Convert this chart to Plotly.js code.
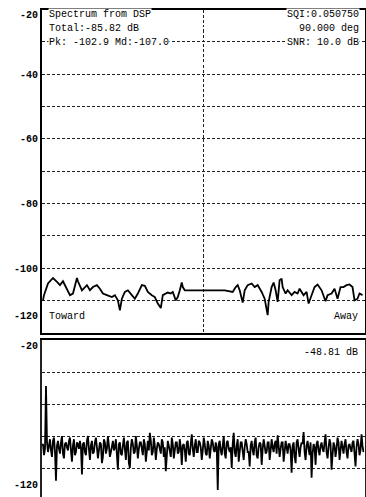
<!DOCTYPE html>
<html>
<head>
<meta charset="utf-8">
<script src="https://cdn.plot.ly/plotly-3.0.1.min.js"></script>
<style>html,body{margin:0;padding:0;background:#fff;}#chart{width:366px;height:497px;}</style>
</head>
<body>
<div id="chart"></div>
<script>
// ---- Top panel: smoothed spectrum (frequency bin, dB) ----
const topBins = [1,2,6,11,15,18,21,24,28,31,35,36,40,45,48,51,55,58,61,65,70,73,76,78,80,83,86,90,93,96,100,103,106,110,113,116,119,121,126,129,131,134,136,138,140,141,143,183,188,191,194,196,198,201,203,206,210,213,216,220,223,226,227,230,232,234,236,238,240,241,244,246,250,253,256,258,262,265,267,270,273,276,280,284,286,290,293,296,299,302,305,308,311,313,316,318,321];
const topValues = [-109.9,-108.3,-104.7,-103.0,-104.2,-105.2,-104.0,-105.8,-108.3,-107.8,-103.0,-104.0,-106.8,-105.2,-106.8,-105.8,-105.2,-106.3,-107.8,-108.3,-108.9,-108.3,-109.9,-113.0,-109.4,-107.3,-106.8,-108.3,-109.4,-107.8,-105.2,-105.4,-107.3,-108.3,-108.9,-110.9,-112.3,-108.3,-107.5,-107.8,-107.3,-109.9,-108.9,-106.8,-104.4,-105.8,-106.8,-106.8,-107.1,-107.3,-105.8,-105.2,-106.8,-110.6,-106.8,-105.2,-104.7,-105.8,-105.2,-107.3,-109.4,-114.5,-110.4,-105.8,-104.4,-106.8,-110.4,-103.7,-103.2,-105.8,-107.8,-106.8,-108.3,-107.3,-107.8,-106.3,-108.3,-107.3,-110.9,-108.3,-105.8,-105.0,-106.8,-110.2,-108.3,-107.8,-106.3,-109.4,-105.8,-105.8,-105.2,-105.0,-105.8,-109.9,-109.4,-107.8,-108.3];

// ---- Bottom panel: raw spectrum, dB (even bins and odd bins) ----
const bottomEven = [-86,-92,-48.8,-90,-82,-93,-81,-108,-83,-91,-80,-94,-84,-89,-81,-96,-82,-90,-85,-83,-104,-84,-92,-80,-95,-83,-90,-81,-94,-84,-97,-82,-91,-80,-93,-85,-89,-82,-101,-84,-92,-81,-95,-83,-100,-82,-91,-80,-94,-84,-90,-82,-96,-83,-78,-92,-81,-95,-84,-89,-82,-93,-102,-83,-90,-81,-94,-84,-91,-82,-98,-85,-96,-83,-92,-79,-93,-82,-90,-84,-95,-81,-91,-83,-94,-82,-89,-84,-113.7,-83,-92,-80,-94,-83,-90,-100,-78,-93,-82,-91,-84,-95,-82,-90,-99,-83,-92,-81,-94,-84,-98,-82,-91,-84,-95,-82,-90,-83,-79.5,-93,-84,-96,-83,-91,-85,-103,-84,-97,-82,-93,-84,-77.5,-95,-83,-92,-106,-85,-98,-83,-92,-84,-90,-79,-94,-82,-101,-84,-93,-81,-95,-83,-91,-82,-94,-85,-90,-83,-99,-82,-92,-79,-90];
const bottomOdd = [-85,-88,-84,-87,-89,-83,-90,-86,-88,-84,
  -91,-85,-87,-83,-89,-86,-92,-84,-88,-87,
  -85,-90,-83,-88,-86,-91,-84,-87,-89,-85,
  -93,-84,-88,-86,-90,-83,-87,-89,-85,-91,
  -86,-88,-84,-97,-87,-85,-90,-86,-88,-84,
  -92,-85,-87,-89,-83,-90,-86,-88,-85,-91,
  -84,-87,-89,-86,-93,-85,-88,-84,-90,-87,
  -86,-89,-84,-91,-85,-88,-86,-90,-83,-87,
  -89,-85,-92,-86,-88,-84,-90,-87,-85,-89,
  -86,-91,-84,-88,-87,-85,-90,-86,-96,-84,
  -88,-87,-85,-90,-86,-89,-84,-92,-87,-85,
  -88,-86,-90,-84,-89,-87,-85,-91,-86,-88,
  -84,-90,-87,-85,-89,-86,-93,-84,-88,-87,
  -85,-90,-86,-88,-84,-91,-87,-85,-89,-86,
  -88,-84,-90,-87,-85,-92,-86,-88,-84,-89,
  -87,-85,-90,-86,-88,-84,-91,-87,-85,-89,
  -86];
const bottomBins = [], bottomValues = [];
bottomEven.forEach((v, i) => {
  bottomBins.push(2 * i); bottomValues.push(v);
  if (i < bottomOdd.length) { bottomBins.push(2 * i + 1); bottomValues.push(bottomOdd[i]); }
});

// ---- Axis ticks / labels ----
const topGridVals = [-110,-100,-90,-80,-70,-60,-50,-40,-30];
const topTickText = ['','-100','','-80','','-60','','-40',''];
const bottomGridVals = [-100,-80,-60,-40];
const centerBin = [161.5];

const topLeftText = ['Spectrum from DSP','Total:-85.82 dB','Pk: -102.9 Md:-107.0'];
const topRightText = ['SQI:0.050750','90.000 deg','SNR: 10.0 dB'];
const bottomPeakText = '-48.81 dB';

const W = 366, H = 497;
const px = v => v / W;
const py = v => 1 - v / H;
const mono = {family: 'Liberation Mono, DejaVu Sans Mono, monospace', size: 10, color: '#000'};
const monoBold = Object.assign({}, mono, {weight: 'bold'});

const traces = [
  {x: topBins, y: topValues, xaxis: 'x', yaxis: 'y', mode: 'lines', line: {color: '#000', width: 1.8}, hoverinfo: 'skip'},
  {x: bottomBins, y: bottomValues, xaxis: 'x2', yaxis: 'y2', mode: 'lines', line: {color: '#000', width: 1.8}, hoverinfo: 'skip'}
];

const annotations = [];
topLeftText.forEach((t, i) => annotations.push({text: t, xref: 'paper', yref: 'paper', x: px(48), y: py([15, 28.5, 42][i]), xanchor: 'left', yanchor: 'middle', showarrow: false, font: mono, bgcolor: '#fff', borderpad: 0}));
topRightText.forEach((t, i) => annotations.push({text: t, xref: 'paper', yref: 'paper', x: px(360), y: py([15, 28.5, 42][i]), xanchor: 'right', yanchor: 'middle', showarrow: false, font: mono, bgcolor: '#fff', borderpad: 0}));
annotations.push({text: 'Toward', xref: 'paper', yref: 'paper', x: px(48), y: py(316), xanchor: 'left', yanchor: 'middle', showarrow: false, font: mono, bgcolor: '#fff', borderpad: 0});
annotations.push({text: 'Away', xref: 'paper', yref: 'paper', x: px(359), y: py(316), xanchor: 'right', yanchor: 'middle', showarrow: false, font: mono, bgcolor: '#fff', borderpad: 0});
annotations.push({text: bottomPeakText, xref: 'paper', yref: 'paper', x: px(359), y: py(352), xanchor: 'right', yanchor: 'middle', showarrow: false, font: mono, bgcolor: '#fff', borderpad: 0});
// end tick labels (drawn inside the axis span like the original)
annotations.push({text: '-20', xref: 'paper', yref: 'paper', x: px(40), y: py(16), xanchor: 'right', yanchor: 'middle', showarrow: false, font: monoBold});
annotations.push({text: '-120', xref: 'paper', yref: 'paper', x: px(40), y: py(316), xanchor: 'right', yanchor: 'middle', showarrow: false, font: monoBold});
annotations.push({text: '-20', xref: 'paper', yref: 'paper', x: px(40), y: py(346), xanchor: 'right', yanchor: 'middle', showarrow: false, font: monoBold});
annotations.push({text: '-120', xref: 'paper', yref: 'paper', x: px(40), y: py(485), xanchor: 'right', yanchor: 'middle', showarrow: false, font: monoBold});

const gridStyle = {gridcolor: '#222', gridwidth: 1, griddash: '3px,2px'};

const layout = {
  width: W, height: H,
  margin: {l: 0, r: 0, t: 0, b: 0, pad: 0},
  paper_bgcolor: '#fff', plot_bgcolor: '#fff',
  showlegend: false,
  xaxis: Object.assign({domain: [px(42), px(364.5)], range: [0, 323], anchor: 'y', tickvals: centerBin, showticklabels: false, ticks: '', showgrid: true, zeroline: false, showline: true, mirror: true, linecolor: '#000', linewidth: 2, fixedrange: true}, gridStyle),
  yaxis: Object.assign({domain: [py(333), py(9.5)], range: [-120, -20], anchor: 'x', tickvals: topGridVals, ticktext: topTickText, tickfont: monoBold, ticks: '', ticklabelstandoff: 0, showgrid: true, zeroline: false, showline: true, mirror: true, linecolor: '#000', linewidth: 2, fixedrange: true}, gridStyle),
  xaxis2: {domain: [px(42), px(364.5)], range: [0, 323], anchor: 'y2', side: 'top', showticklabels: false, ticks: '', showgrid: false, zeroline: false, showline: true, mirror: false, linecolor: '#000', linewidth: 2, fixedrange: true},
  yaxis2: Object.assign({domain: [0, py(340)], range: [-118.1, -20], anchor: 'x2', tickvals: bottomGridVals, showticklabels: false, ticks: '', showgrid: true, zeroline: false, showline: true, mirror: true, linecolor: '#222', linewidth: 2.5, fixedrange: true}, gridStyle),
  annotations: annotations
};

Plotly.newPlot('chart', traces, layout, {staticPlot: true, displayModeBar: false});
</script>
</body>
</html>
